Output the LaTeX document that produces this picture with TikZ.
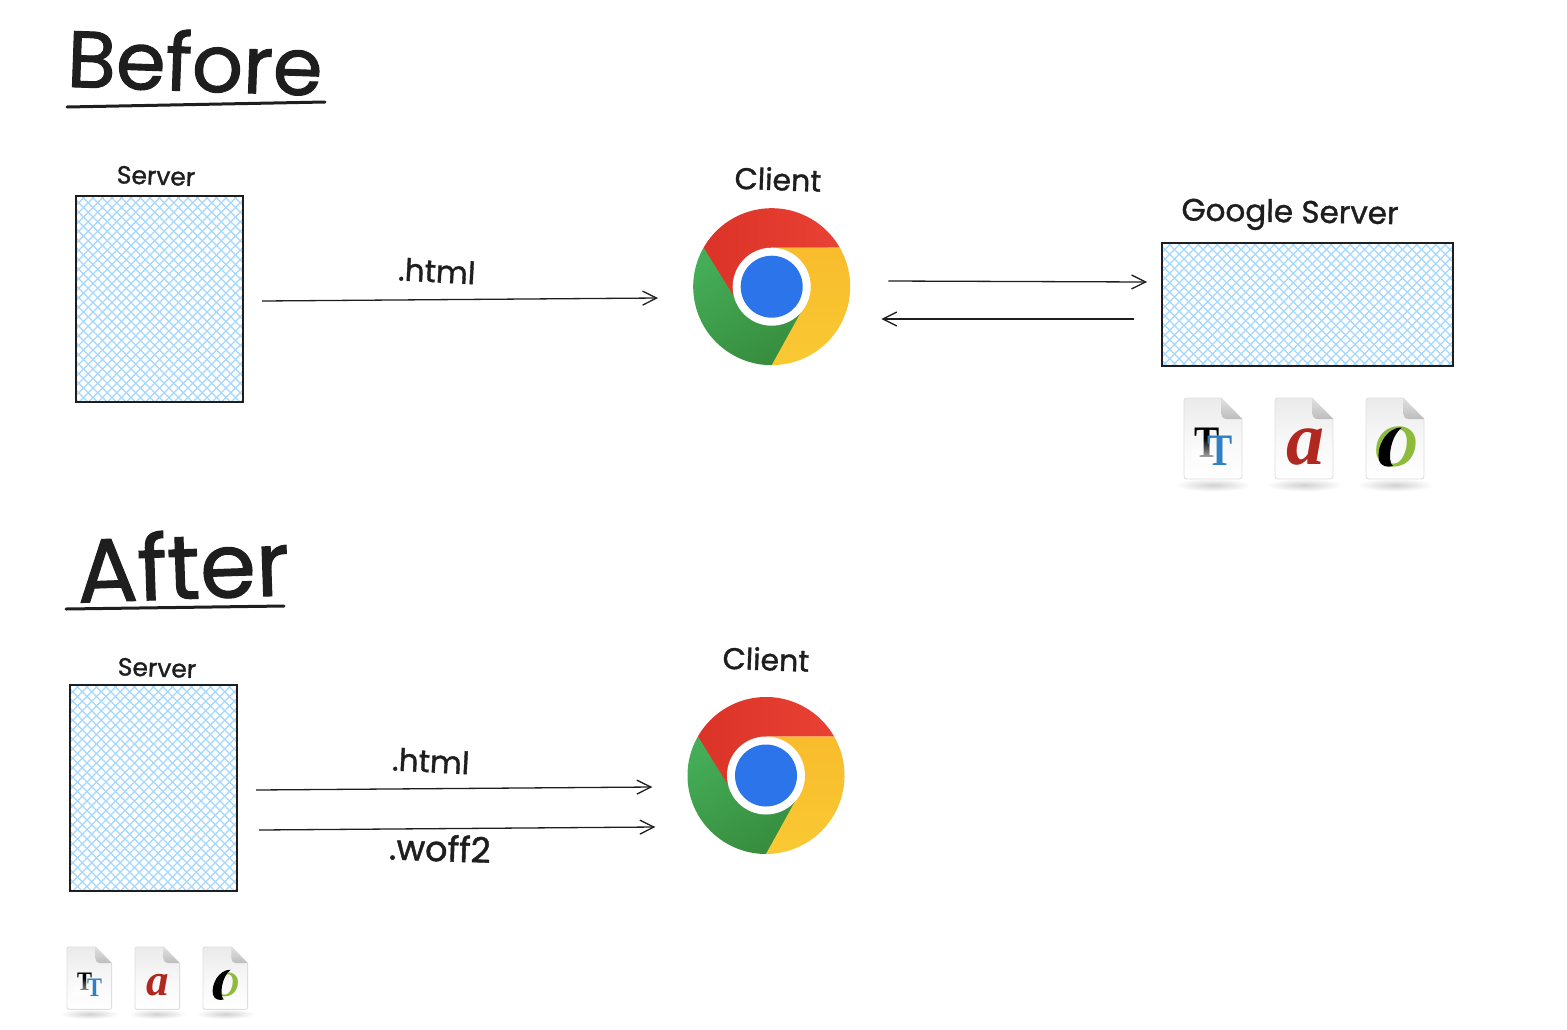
\documentclass[tikz,border=0pt]{standalone}
\usepackage{fontspec}
\setmainfont{Poppins}
\newfontfamily\handfont[FakeBold=1.2]{Poppins}
\newfontfamily\iconfont{Liberation Serif}
\usetikzlibrary{arrows.meta,calc,fadings}
\definecolor{ink}{HTML}{1E1E1E}
\definecolor{hatch}{HTML}{A5D8FF}
\definecolor{chromegreenA}{HTML}{45AD58}
\definecolor{chromegreenB}{HTML}{368C3C}
\definecolor{chromeyellowA}{HTML}{F8BC2C}
\definecolor{chromeyellowB}{HTML}{F9C933}
\definecolor{chromeredA}{HTML}{DB3327}
\definecolor{chromeredB}{HTML}{E94235}
\definecolor{chromeblue}{HTML}{2C74EA}
\definecolor{fontred}{HTML}{B0281F}
\definecolor{fontgreen}{HTML}{8FBB3C}
\definecolor{fontblue}{HTML}{2F80C4}
\tikzset{
  sketchbox/.style={draw=ink,line width=1.5pt,inner sep=0pt,outer sep=0pt,anchor=north west},
  hatchline/.style={draw=hatch,line width=1.2pt},
  flow/.style={draw=ink,line width=1.3pt,-{Straight Barb[length=14pt,width=14pt,line width=1.3pt]}},
  rule/.style={draw=ink,line width=3pt,line cap=round},
  hand/.style={text=ink,inner sep=0pt},
  logospot/.style={circle,inner sep=0pt,minimum size=157pt},
}
\newcommand{\hatchedbox}[5]{% name x0 y0 w h
  \begin{scope}
    \clip (#2,#3) rectangle ++(#4,#5);
    \pgfmathsetmacro{\hs}{#4+#5}
    \foreach \d in {0,9.5,...,\hs}{
      \draw[hatchline] (#2+\d,#3) -- ++(-#5-1,#5+1);
      \draw[hatchline] (#2+#4-\d,#3) -- ++(#5+1,#5+1);
    }
  \end{scope}
  \node[sketchbox,minimum width=#4pt,minimum height=#5pt] (#1) at (#2,#3) {};
}
\newcommand{\chromelogo}[3]{% name cx cy
  \begin{scope}[shift={(#2,#3)},x=1pt,y=1pt]
    \path[top color=chromegreenA,bottom color=chromegreenB,shading angle=30]
      (150:78.5) arc[start angle=150,end angle=270,radius=78.5] -- (-20:50) -- (0,0) -- cycle;
    \path[top color=chromeyellowA,bottom color=chromeyellowB]
      (30:78.5) arc[start angle=30,end angle=-90,radius=78.5] -- (-32:38) -- (90:39) -- cycle;
    \path[left color=chromeredA,right color=chromeredB]
      (150:78.5) arc[start angle=150,end angle=30,radius=78.5] -- (90:39) -- (200:38) -- cycle;
    \fill[white] (0,0) circle (39);
    \fill[chromeblue] (0,0) circle (31);
  \end{scope}
  \node[logospot] (#1) at (#2,#3) {};
}
\newcommand{\fileicon}[4]{% x y scale content
  \begin{scope}[shift={(#1,#2)},scale=#3]
    \shade[inner color=black!18,outer color=white] (29,87) ellipse (38 and 6.5);
    \path[draw=black!13,line width=0.9pt,top color=black!8,bottom color=white,middle color=black!3]
      (3,0) -- (37,0) -- (58,21) -- (58,78) .. controls (58,80) and (57,81) .. (55,81) -- (3,81)
      .. controls (1,81) and (0,80) .. (0,78) -- (0,3) .. controls (0,1) and (1,0) .. (3,0) -- cycle;
    \path[top color=black!12,bottom color=black!26]
      (37,0) -- (58,21) -- (43,21) .. controls (39,21) and (37,18) .. (37,15) -- cycle;
    #4
  \end{scope}
}
\newcommand{\ttglyphs}[1]{%
  \node[xscale=0.84*#1,yscale=#1,transform shape,inner sep=0pt,text=black] at (23,45) {\iconfont\bfseries\fontsize{45}{45}\selectfont T};
  \fill[white,path fading=north,fill opacity=.75] (8,40) rectangle (38,62);
  \node[xscale=0.84*#1,yscale=#1,transform shape,inner sep=0pt,text=fontblue] at (36,53) {\iconfont\bfseries\fontsize{45}{45}\selectfont T};
}
\newcommand{\aglyph}[1]{%
  \node[scale=#1,transform shape,inner sep=0pt,text=fontred] at (30,49) {\iconfont\bfseries\itshape\fontsize{76}{76}\selectfont a};
}
\newcommand{\oglyph}[1]{%
  \node[scale=#1,transform shape,inner sep=0pt,text=fontgreen] at (30,49) {\iconfont\itshape\bfseries\fontsize{60}{60}\selectfont O};
  \fill[black] (36,29.5) .. controls (20,29) and (10,50) .. (13,62) .. controls (15,69) and (22,69.5) .. (27,68)
    .. controls (21,64) and (24,38) .. (36,29.5) -- cycle;
}
\begin{document}
\begin{tikzpicture}[x=1pt,y=-1pt]
\useasboundingbox (0,0) rectangle (1567,1029);
\fill[white] (0,0) rectangle (1567,1029);

% titles
\node[hand,font=\handfont\fontsize{80}{80}\selectfont,rotate=-2] (before) at (195,61) {Before};
\coordinate (beforeA) at (67,107); \coordinate (beforeB) at (325,102);
\draw[rule] (beforeA) -- (beforeB);
\node[hand,font=\handfont\fontsize{90}{90}\selectfont,rotate=2] (after) at (183,565) {After};
\coordinate (afterA) at (66,609); \coordinate (afterB) at (284,606);
\draw[rule] (afterA) -- (afterB);

% before
\node[hand,font=\handfont\fontsize{25}{25}\selectfont,rotate=-2] (serverlabelA) at (156,176) {Server};
\hatchedbox{serverA}{76}{196}{167}{206}
\node[hand,font=\handfont\fontsize{30}{30}\selectfont,rotate=-2] (clientlabelA) at (778,179) {Client};
\chromelogo{clientA}{771.7}{286.7}
\node[hand,font=\handfont\fontsize{31}{31}\selectfont,rotate=-1] (googlelabel) at (1290,215) {Google Server};
\hatchedbox{google}{1162}{243}{291}{123}
\node[hand,font=\handfont\fontsize{31}{31}\selectfont,rotate=-3] (htmlA) at (437,271) {.html};
\draw[flow] ([xshift=19pt,yshift=-2pt]serverA.east) -- ([xshift=-35pt,yshift=-11.3pt]clientA.west);
\draw[flow] ([xshift=38pt,yshift=5.7pt]clientA.east) -- ([xshift=-15pt,yshift=22.5pt]google.west);
\draw[flow] ([xshift=-28pt,yshift=-14.5pt]google.west) -- ([xshift=31pt,yshift=-32.3pt]clientA.east);
\fileicon{1184}{398}{1}{\ttglyphs{1}}
\fileicon{1275}{398}{1}{\aglyph{1}}
\fileicon{1366}{398}{1}{\oglyph{1}}

% after
\node[hand,font=\handfont\fontsize{25}{25}\selectfont,rotate=-2] (serverlabelB) at (157,668) {Server};
\hatchedbox{serverB}{70}{685}{167}{206}
\node[hand,font=\handfont\fontsize{30}{30}\selectfont,rotate=-2] (clientlabelB) at (766,659) {Client};
\chromelogo{clientB}{766}{775.5}
\node[hand,font=\handfont\fontsize{31}{31}\selectfont,rotate=-3] (htmlB) at (431,761) {.html};
\node[hand,font=\handfont\fontsize{35}{35}\selectfont,rotate=-2] (woff) at (440,848) {.woff2};
\draw[flow] ([xshift=19pt,yshift=-2pt]serverB.east) -- ([xshift=-35pt,yshift=-11.5pt]clientB.west);
\draw[flow] ([xshift=22pt,yshift=-42pt]serverB.east) -- ([xshift=-32pt,yshift=-51.5pt]clientB.west);
\fileicon{67}{947}{0.77}{\ttglyphs{0.77}}
\fileicon{135}{947}{0.77}{\aglyph{0.77}}
\fileicon{203}{947}{0.77}{\oglyph{0.77}}
\end{tikzpicture}
\end{document}
